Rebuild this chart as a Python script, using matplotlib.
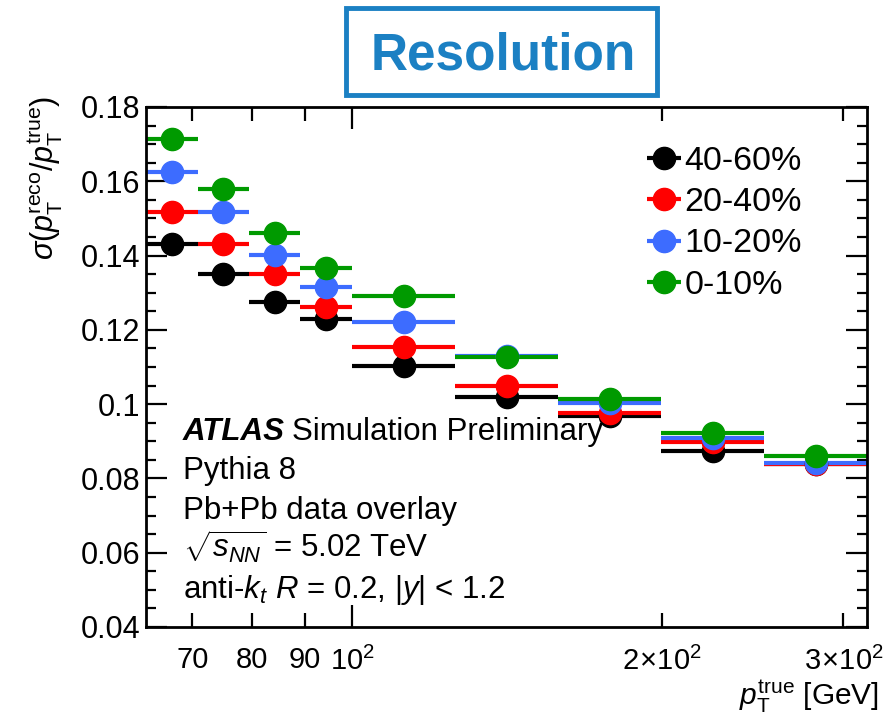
import numpy as np
import matplotlib
matplotlib.use("Agg")
import matplotlib.pyplot as plt
from matplotlib.ticker import FixedLocator, FixedFormatter, MultipleLocator, FuncFormatter
from matplotlib.patches import Rectangle

# pT bin edges [GeV] (log bins) and resolution per centrality class
pt_edges = [63.1, 70.8, 79.4, 89.1, 100.0, 125.9, 158.5, 199.5, 251.2, 316.2]
labels = ['40-60%', '20-40%', '10-20%', '0-10%']
res_40_60 = [0.1430, 0.1350, 0.1276, 0.1229, 0.1103, 0.1019, 0.0967, 0.0875, 0.0840]
res_20_40 = [0.1517, 0.1430, 0.1351, 0.1262, 0.1154, 0.1049, 0.0976, 0.0898, 0.0840]
res_10_20 = [0.1624, 0.1517, 0.1402, 0.1316, 0.1222, 0.1130, 0.1004, 0.0909, 0.0841]
res_0_10 = [0.1713, 0.1580, 0.1460, 0.1366, 0.1292, 0.1128, 0.1015, 0.0921, 0.0861]
colors = ['black', '#ff0000', '#3d6cff', '#009a00']

plt.rcParams['font.family'] = ['Liberation Sans', 'DejaVu Sans']
plt.rcParams['mathtext.fontset'] = 'custom'
plt.rcParams['mathtext.rm'] = 'Liberation Sans'
plt.rcParams['mathtext.it'] = 'Liberation Sans:italic'
plt.rcParams['mathtext.bf'] = 'Liberation Sans:bold'

edges = np.array(pt_edges)
lo, hi = edges[:-1], edges[1:]
xc = np.sqrt(lo * hi)

fig = plt.figure(figsize=(8.94, 7.23), dpi=100)
ax = fig.add_axes([146/894, 1-627/723, (867-146)/894, (627-107)/723])

for vals, c, lab in zip([res_40_60, res_20_40, res_10_20, res_0_10], colors, labels):
    ax.errorbar(xc, vals, xerr=[xc - lo, hi - xc], fmt='o', color=c, mec=c,
                ms=16, elinewidth=3, capsize=0, label=lab)

ax.set_xscale('log')
ax.set_xlim(63.1, 316.2)
ax.set_ylim(0.04, 0.18)

ax.xaxis.set_major_locator(FixedLocator([100]))
ax.xaxis.set_major_formatter(FixedFormatter([r'$10^2$']))
ax.xaxis.set_minor_locator(FixedLocator([70, 80, 90, 200, 300]))
ax.xaxis.set_minor_formatter(FixedFormatter(['70', '80', '90', r'$2\!\times\!10^2$', r'$3\!\times\!10^2$']))
ax.yaxis.set_major_locator(MultipleLocator(0.02))
ax.yaxis.set_minor_locator(MultipleLocator(0.005))
ax.yaxis.set_major_formatter(FuncFormatter(lambda v, p: '%g' % round(v, 3)))

ax.tick_params(which='both', direction='in', top=True, right=True, width=1.6, labelsize=22)
ax.tick_params(axis='y', which='major', length=15, pad=4)
ax.tick_params(axis='y', which='minor', length=7.5)
ax.tick_params(axis='x', which='major', length=16, pad=14, labelsize=21)
ax.tick_params(axis='x', which='minor', length=10, pad=14, labelsize=21)
for s in ax.spines.values():
    s.set_linewidth(2)

leg = ax.legend(loc='upper left', bbox_to_anchor=(0.697, 0.925), frameon=False,
                fontsize=24.5, handlelength=0.9, handletextpad=0.15, labelspacing=0.3,
                borderpad=0, borderaxespad=0)

# ATLAS label block
tx = 0.051
fs = 22.5
ax.text(tx, 0.360, 'ATLAS', transform=ax.transAxes, fontsize=fs,
        fontweight='bold', fontstyle='italic', va='baseline')
ax.text(0.203, 0.360, 'Simulation Preliminary', transform=ax.transAxes, fontsize=fs, va='baseline')
ax.text(tx, 0.285, 'Pythia 8', transform=ax.transAxes, fontsize=fs, va='baseline')
ax.text(tx, 0.208, 'Pb+Pb data overlay', transform=ax.transAxes, fontsize=fs, va='baseline')
ax.text(tx, 0.133, r'$\sqrt{s_{NN}}$ = 5.02 TeV', transform=ax.transAxes, fontsize=fs, va='baseline')
ax.text(tx, 0.056, r'anti-$k_{t}$ $R$ = 0.2, |$y$| < 1.2', transform=ax.transAxes, fontsize=fs, va='baseline')

# axis titles
fig.text(45/894, 1-96/723, r'$\sigma(p_{\rm T}^{\rm reco}/p_{\rm T}^{\rm true})$',
         rotation=90, ha='center', va='top', fontsize=22)
fig.text(879/894, 1-705/723, r'$p_{\rm T}^{\rm true}$ [GeV]', ha='right', va='baseline', fontsize=21.5)

# title box
blue = '#1b80c3'
fig.patches.append(Rectangle((346/894, 1-95/723), 311/894, 87/723, transform=fig.transFigure,
                             fill=False, ec=blue, lw=3.5))
fig.text(503/894, 1-70/723, 'Resolution', ha='center', va='baseline', fontsize=37,
         fontweight='bold', color=blue)

fig.savefig('out.png', dpi=100)
